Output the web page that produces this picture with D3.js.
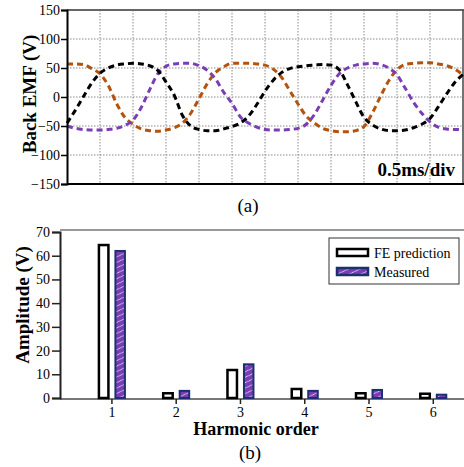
<!DOCTYPE html>
<html>
<head>
<meta charset="utf-8">
<script src="https://cdn.jsdelivr.net/npm/d3@7"></script>
<style>
  body { margin: 0; background: #fff; }
  svg { display: block; }
  svg text { font-family: "Liberation Serif", "Times New Roman", serif; fill: #000; }
</style>
</head>
<body>
<div id="chart"></div>
<script>
// ---- data: back EMF traces (t in divisions of 0.5ms, value in V)
const emfBlack = [
  [0, -45], [0.25, -23], [0.5, 1], [0.75, 24], [1, 41], [1.25, 50], [1.5, 55], [1.75, 57],
  [2, 58], [2.25, 57], [2.5, 54], [2.75, 46], [3, 26], [3.25, 3], [3.5, -32], [3.75, -50],
  [4, -56], [4.25, -58], [4.5, -58], [4.75, -55], [5, -51], [5.25, -45], [5.5, -33], [5.75, -13],
  [6, 10], [6.25, 29], [6.5, 42], [6.75, 49], [7, 52], [7.25, 54], [7.5, 55], [7.75, 56],
  [8, 55], [8.25, 47], [8.5, 21], [8.75, -8], [9, -35], [9.25, -48], [9.5, -55], [9.75, -58],
  [10, -58], [10.25, -57], [10.5, -53], [10.75, -47], [11, -37], [11.25, -17], [11.5, 5], [11.75, 25],
  [12, 39]
]
const emfOrange = [
  [0, 57], [0.25, 57], [0.5, 56], [0.75, 49], [1, 40], [1.25, 20], [1.5, -11], [1.75, -35],
  [2, -47], [2.25, -55], [2.5, -58], [2.75, -59], [3, -57], [3.25, -53], [3.5, -45], [3.75, -28],
  [4, -3], [4.25, 23], [4.5, 42], [4.75, 52], [5, 58], [5.25, 58], [5.5, 58], [5.75, 57],
  [6, 55], [6.25, 48], [6.5, 34], [6.75, 11], [7, -12], [7.25, -33], [7.5, -45], [7.75, -54],
  [8, -58], [8.25, -60], [8.5, -60], [8.75, -58], [9, -51], [9.25, -28], [9.5, 1], [9.75, 28],
  [10, 47], [10.25, 56], [10.5, 58], [10.75, 59], [11, 59], [11.25, 57], [11.5, 54], [11.75, 48],
  [12, 38]
]
const emfPurple = [
  [0, -50], [0.25, -54], [0.5, -56], [0.75, -57], [1, -57], [1.25, -56], [1.5, -54], [1.75, -49],
  [2, -40], [2.25, -18], [2.5, 12], [2.75, 40], [3, 53], [3.25, 57], [3.5, 58], [3.75, 58],
  [4, 54], [4.25, 46], [4.5, 31], [4.75, 8], [5, -11], [5.25, -34], [5.5, -45], [5.75, -52],
  [6, -56], [6.25, -57], [6.5, -57], [6.75, -56], [7, -54], [7.25, -47], [7.5, -30], [7.75, -5],
  [8, 20], [8.25, 40], [8.5, 50], [8.75, 55], [9, 57], [9.25, 58], [9.5, 56], [9.75, 50],
  [10, 38], [10.25, 15], [10.5, -9], [10.75, -28], [11, -43], [11.25, -52], [11.5, -55], [11.75, -56],
  [12, -56]
]
const emfTicks = [-150, -100, -50, 0, 50, 100, 150]

// ---- data: harmonic spectrum
const harmonics = [1, 2, 3, 4, 5, 6]
const fePrediction = [64.5, 2.0, 11.8, 3.8, 2.0, 1.8]
const measured = [62.0, 3.0, 14.2, 3.0, 3.4, 1.4]
const ampTicks = [0, 10, 20, 30, 40, 50, 60, 70]
const seriesNames = ['FE prediction', 'Measured']

const W = 464, H = 467
const svg = d3.select('#chart').append('svg')
  .attr('width', W)
  .attr('height', H)

const defs = svg.append('defs')
const hatch = defs.append('pattern')
  .attr('id', 'hatch')
  .attr('patternUnits', 'userSpaceOnUse')
  .attr('width', 7)
  .attr('height', 7)
  .attr('patternTransform', 'rotate(20)')
hatch.append('rect').attr('width', 7).attr('height', 7).attr('fill', '#7b3db5')
hatch.append('line')
  .attr('x1', 0).attr('y1', 7).attr('x2', 7).attr('y2', 0)
  .attr('stroke', '#d9c8f2').attr('stroke-width', 1)

// ================= (a) back EMF =================
const pa = { left: 67, right: 463, top: 10, bottom: 184 }

const tScale = d3.scaleLinear().domain([0, 12]).range([pa.left, pa.right])
const vScale = d3.scaleLinear().domain([-150, 150]).range([pa.bottom, pa.top])

const gA = svg.append('g')

// grid (dotted)
gA.append('g').selectAll('line')
  .data(d3.range(1, 12))
  .join('line')
  .attr('x1', d => tScale(d)).attr('x2', d => tScale(d))
  .attr('y1', pa.top).attr('y2', pa.bottom)
  .attr('stroke', '#8a8a8a').attr('stroke-width', 1).attr('stroke-dasharray', '1.5,1.5')

gA.append('g').selectAll('line')
  .data(emfTicks.slice(1, -1))
  .join('line')
  .attr('x1', pa.left).attr('x2', pa.right)
  .attr('y1', d => vScale(d)).attr('y2', d => vScale(d))
  .attr('stroke', '#8a8a8a').attr('stroke-width', 1).attr('stroke-dasharray', '1.5,1.5')

// frame top / right
gA.append('line')
  .attr('x1', pa.left).attr('x2', pa.right + 1)
  .attr('y1', pa.top).attr('y2', pa.top)
  .attr('stroke', '#666').attr('stroke-width', 2)
gA.append('line')
  .attr('x1', pa.right).attr('x2', pa.right)
  .attr('y1', pa.top).attr('y2', pa.bottom)
  .attr('stroke', '#444').attr('stroke-width', 1.5)

const emfLine = d3.line()
  .x(d => tScale(d[0]))
  .y(d => vScale(d[1]))
  .curve(d3.curveMonotoneX)

const traces = [
  { data: emfOrange, color: '#b4530f' },
  { data: emfPurple, color: '#7a3db3' },
  { data: emfBlack, color: '#000000' }
]
gA.append('g').selectAll('path')
  .data(traces)
  .join('path')
  .attr('d', d => emfLine(d.data))
  .attr('fill', 'none')
  .attr('stroke', d => d.color)
  .attr('stroke-width', 3)
  .attr('stroke-dasharray', '6,4')

const yAxisA = d3.axisLeft(vScale).tickValues(emfTicks).tickSize(6).tickPadding(1)
gA.append('g')
  .attr('transform', 'translate(' + pa.left + ',0)')
  .call(yAxisA)
  .call(g => g.select('.domain').attr('stroke', '#000').attr('stroke-width', 2))
  .call(g => g.selectAll('.tick line').attr('stroke', '#000').attr('stroke-width', 1.5))
  .call(g => g.selectAll('.tick text').attr('font-size', 14))

gA.append('line')
  .attr('x1', pa.left).attr('x2', pa.right + 1)
  .attr('y1', pa.bottom).attr('y2', pa.bottom)
  .attr('stroke', '#000').attr('stroke-width', 2)

gA.append('text')
  .attr('transform', 'translate(36,94) rotate(-90)')
  .attr('text-anchor', 'middle')
  .attr('font-size', 19)
  .attr('font-weight', 'bold')
  .text('Back EMF (V)')

gA.append('text')
  .attr('x', 455).attr('y', 176)
  .attr('text-anchor', 'end')
  .attr('font-size', 19)
  .attr('font-weight', 'bold')
  .text('0.5ms/div')

gA.append('text')
  .attr('x', 248).attr('y', 212)
  .attr('text-anchor', 'middle')
  .attr('font-size', 19)
  .text('(a)')

// ================= (b) harmonics =================
const pb = { left: 60, right: 464, top: 230, bottom: 398 }

const hScale = d3.scaleLinear().domain([0.2, 6.47]).range([pb.left, 463])
const aScale = d3.scaleLinear().domain([0, 70]).range([pb.bottom, 232])

const gB = svg.append('g')

gB.append('line')
  .attr('x1', pb.left).attr('x2', pb.right)
  .attr('y1', pb.top).attr('y2', pb.top)
  .attr('stroke', '#777').attr('stroke-width', 1.5)

gB.append('line')
  .attr('x1', pb.left).attr('x2', pb.right)
  .attr('y1', pb.bottom + 1).attr('y2', pb.bottom + 1)
  .attr('stroke', '#777').attr('stroke-width', 2)

const barW = 9.5
gB.append('g').selectAll('rect')
  .data(harmonics)
  .join('rect')
  .attr('x', (d, i) => hScale(d) - 12.5)
  .attr('width', barW)
  .attr('y', (d, i) => aScale(fePrediction[i]))
  .attr('height', (d, i) => aScale(0) - aScale(fePrediction[i]))
  .attr('fill', '#fff')
  .attr('stroke', '#000')
  .attr('stroke-width', 2.5)

gB.append('g').selectAll('rect')
  .data(harmonics)
  .join('rect')
  .attr('x', (d, i) => hScale(d) + 4)
  .attr('width', barW)
  .attr('y', (d, i) => aScale(measured[i]))
  .attr('height', (d, i) => aScale(0) - aScale(measured[i]))
  .attr('fill', 'url(#hatch)')
  .attr('stroke', '#1c2f6e')
  .attr('stroke-width', 2)

const yAxisB = d3.axisLeft(aScale).tickValues(ampTicks).tickSize(8).tickPadding(2)
gB.append('g')
  .attr('transform', 'translate(' + pb.left + ',0)')
  .call(yAxisB)
  .call(g => g.select('.domain').attr('stroke', '#222').attr('stroke-width', 2))
  .call(g => g.selectAll('.tick line').attr('stroke', '#222').attr('stroke-width', 1.5))
  .call(g => g.selectAll('.tick text').attr('font-size', 14))

const xAxisB = d3.axisBottom(hScale).tickValues(harmonics).tickSize(5).tickPadding(3)
  .tickFormat(d3.format('d'))
gB.append('g')
  .attr('transform', 'translate(0,' + (pb.bottom + 1) + ')')
  .call(xAxisB)
  .call(g => g.select('.domain').remove())
  .call(g => g.selectAll('.tick line').attr('stroke', '#222').attr('stroke-width', 1.5))
  .call(g => g.selectAll('.tick text').attr('font-size', 14))

gB.append('text')
  .attr('transform', 'translate(29,305) rotate(-90)')
  .attr('text-anchor', 'middle')
  .attr('font-size', 19)
  .attr('font-weight', 'bold')
  .text('Amplitude (V)')

gB.append('text')
  .attr('x', 256).attr('y', 435)
  .attr('text-anchor', 'middle')
  .attr('font-size', 18)
  .attr('font-weight', 'bold')
  .text('Harmonic order')

gB.append('text')
  .attr('x', 250).attr('y', 459)
  .attr('text-anchor', 'middle')
  .attr('font-size', 19)
  .text('(b)')

// legend
const legend = gB.append('g')
legend.append('rect')
  .attr('x', 329).attr('y', 238)
  .attr('width', 130).attr('height', 46)
  .attr('fill', '#fff')
  .attr('stroke', '#333').attr('stroke-width', 1)

const swatchFill = ['#fff', 'url(#hatch)']
const swatchStroke = ['#000', '#1c2f6e']
legend.selectAll('.sw')
  .data(seriesNames)
  .join('rect')
  .attr('class', 'sw')
  .attr('x', 337)
  .attr('y', (d, i) => 249 + i * 19)
  .attr('width', 31).attr('height', 7)
  .attr('fill', (d, i) => swatchFill[i])
  .attr('stroke', (d, i) => swatchStroke[i])
  .attr('stroke-width', 2.5)

legend.selectAll('.lt')
  .data(seriesNames)
  .join('text')
  .attr('class', 'lt')
  .attr('x', 374)
  .attr('y', (d, i) => 258 + i * 19)
  .attr('font-size', 14)
  .text(d => d)
</script>
</body>
</html>
